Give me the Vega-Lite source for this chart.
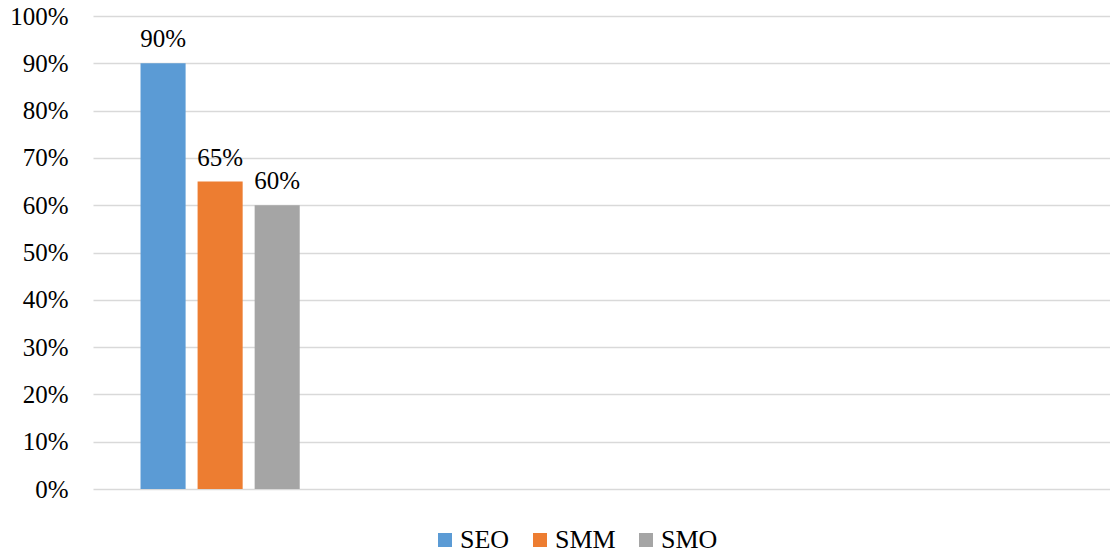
{
  "$schema": "https://vega.github.io/schema/vega-lite/v6.json",
  "width": 1017,
  "height": 473,
  "autosize": {"type": "none"},
  "padding": {"left": 93, "top": 16, "right": 0, "bottom": 64},
  "config": {"view": {"stroke": null}, "font": "Times New Roman, Liberation Serif, serif"},
  "data": {
    "values": [
      {"group": "G1", "series": "SEO", "value": 0.9},
      {"group": "G1", "series": "SMM", "value": 0.65},
      {"group": "G1", "series": "SMO", "value": 0.6}
    ]
  },
  "encoding": {
    "x": {
      "field": "group",
      "type": "nominal",
      "scale": {"domain": ["G1", "G2", "G3", "G4"], "paddingInner": 0, "paddingOuter": 0},
      "axis": null
    },
    "xOffset": {
      "field": "series",
      "type": "nominal",
      "scale": {"domain": ["SEO", "SMM", "SMO"], "paddingInner": 0.21, "paddingOuter": 0.833}
    },
    "y": {
      "field": "value",
      "type": "quantitative",
      "scale": {"domain": [0, 1], "nice": false},
      "axis": {
        "title": null,
        "values": [0, 0.1, 0.2, 0.3, 0.4, 0.5, 0.6, 0.7, 0.8, 0.9, 1],
        "format": ".0%",
        "labelFontSize": 25,
        "labelColor": "#000000",
        "labelFont": "Times New Roman, Liberation Serif, serif",
        "labelPadding": 25,
        "ticks": false,
        "tickSize": 0,
        "domain": false,
        "grid": true,
        "gridColor": "#d9d9d9",
        "gridWidth": 1.5
      }
    }
  },
  "layer": [
    {
      "mark": {"type": "bar"},
      "encoding": {
        "color": {
          "field": "series",
          "type": "nominal",
          "scale": {"domain": ["SEO", "SMM", "SMO"], "range": ["#5b9bd5", "#ed7d31", "#a5a5a5"]},
          "legend": {
            "title": null,
            "orient": "none",
            "direction": "horizontal",
            "legendX": 339,
            "legendY": 511,
            "symbolType": "square",
            "symbolSize": 196,
            "symbolStrokeWidth": 0,
            "labelFontSize": 26,
            "labelFont": "Times New Roman, Liberation Serif, serif",
            "labelColor": "#000000",
            "labelOffset": 2,
            "columnPadding": 17
          }
        }
      }
    },
    {
      "mark": {"type": "text", "baseline": "alphabetic", "dy": -16, "fontSize": 25, "font": "Times New Roman, Liberation Serif, serif", "color": "#000000"},
      "encoding": {
        "text": {"field": "value", "type": "quantitative", "format": ".0%"}
      }
    }
  ]
}
